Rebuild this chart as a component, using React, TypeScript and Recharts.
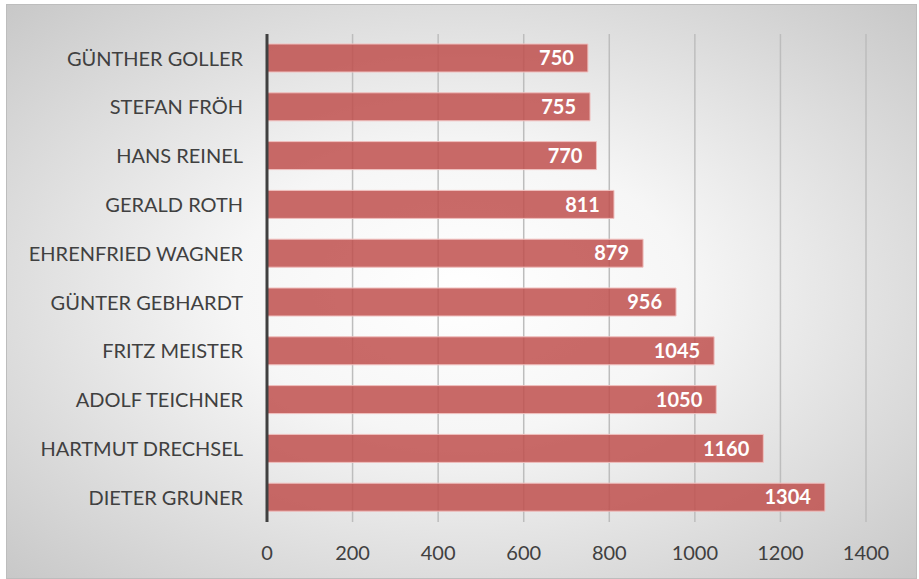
import { BarChart, Bar, XAxis, YAxis, CartesianGrid, LabelList } from "recharts";

// names top to bottom, as in the picture
const names = [
  "GÜNTHER GOLLER",
  "STEFAN FRÖH",
  "HANS REINEL",
  "GERALD ROTH",
  "EHRENFRIED WAGNER",
  "GÜNTER GEBHARDT",
  "FRITZ MEISTER",
  "ADOLF TEICHNER",
  "HARTMUT DRECHSEL",
  "DIETER GRUNER",
];
const points = [750, 755, 770, 811, 879, 956, 1045, 1050, 1160, 1304];
const xTicks = [0, 200, 400, 600, 800, 1000, 1200, 1400];

const data = names.map((name, i) => ({ name, value: points[i] }));

const font = "Lato, 'Open Sans', sans-serif";

export default function App() {
  return (
    <div
      style={{
        position: "absolute",
        left: 6,
        top: 4,
        width: 909,
        height: 573,
        border: "1px solid #bdbdbd",
        background: "radial-gradient(ellipse at 50% 50%, #ffffff 0%, #f6f6f6 35%, #c8c8c8 100%)",
        fontFamily: font,
      }}
    >
      <BarChart
        width={909}
        height={573}
        data={data}
        layout="vertical"
        barSize={28}
        margin={{ top: 29, right: 50, bottom: 14, left: 0 }}
      >
        <CartesianGrid horizontal={false} vertical={true} stroke="#bdbdbd" strokeWidth={1.5} />
        <XAxis
          type="number"
          dataKey="value"
          domain={[0, 1400]}
          ticks={xTicks}
          axisLine={false}
          tickLine={false}
          tickMargin={18}
          height={42}
          tick={{ fill: "#404040", fontSize: 20, fontFamily: font }}
        />
        <YAxis
          type="category"
          dataKey="name"
          width={260}
          axisLine={{ stroke: "#404040", strokeWidth: 3 }}
          tickLine={false}
          tickMargin={18}
          tick={{ fill: "#404040", fontSize: 20, fontFamily: font }}
        />
        <Bar
          dataKey="value"
          fill="#c0504d"
          fillOpacity={0.85}
          stroke="#f0c0bf"
          strokeWidth={1}
          isAnimationActive={false}
        >
          <LabelList
            dataKey="value"
            position="insideRight"
            offset={14}
            fill="#ffffff"
            style={{ fontSize: 20, fontWeight: 700, fontFamily: font }}
          />
        </Bar>
      </BarChart>
    </div>
  );
}
